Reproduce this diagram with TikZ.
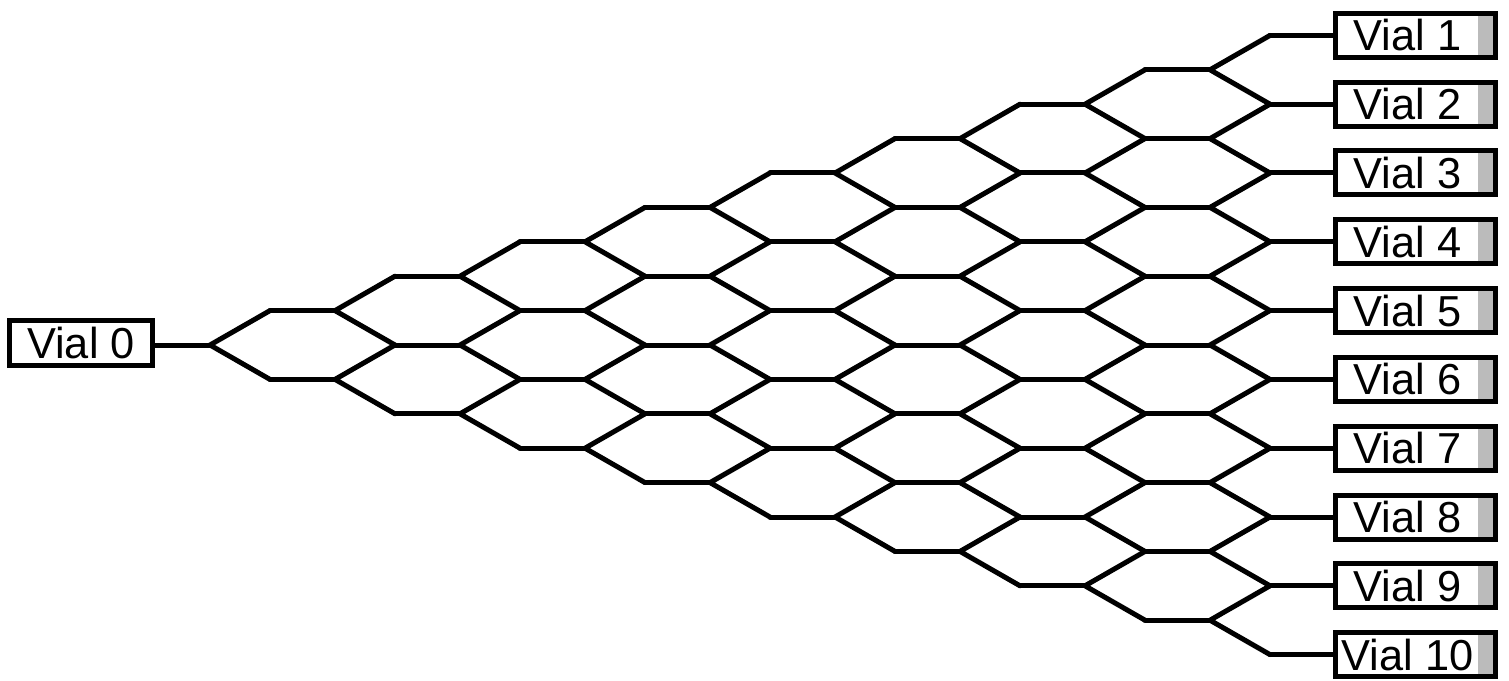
\documentclass[tikz,border=0pt]{standalone}
\usepackage{fontspec}
\setmainfont{Liberation Sans}
\usepackage{tikz}
\definecolor{vialgray}{RGB}{187,187,187}

\begin{document}
\begin{tikzpicture}[
    x=0.03cm, y=-0.03cm,
    channel/.style={line width=0.15cm, line join=miter, line cap=round},
    vial/.style={draw, line width=0.15cm, inner sep=0pt, minimum height=1.32cm,
                 font=\fontsize{37}{40}\selectfont},
    outvial/.style={vial, path picture={
        \fill[vialgray] ([xshift=-0.5cm]path picture bounding box.north east)
              rectangle (path picture bounding box.south east);}}
]
\useasboundingbox (0,0) rectangle (1509,681);

% Split points and channel starts
\foreach \k in {1,...,9} {
  \foreach \j in {1,...,\k} {
    \coordinate (s\k-\j) at ({210+125*(\k-1)}, {345+34.4*(2*\j-\k-1)});
  }
  \foreach \m in {1,...,\numexpr\k+1\relax} {
    \coordinate (c\k-\m) at ({270+125*(\k-1)}, {345+34.4*(2*\m-\k-2)});
  }
}

% Vials
\node[vial, minimum width=4.26cm] (v0) at (81, 343) {Vial 0};
\foreach \m in {1,...,10} {
  \node[outvial] (v\m) at (1415, {345+34.4*(2*\m-11)})
    {\makebox[4.8cm][l]{\makebox[4.35cm]{Vial \m}}};
}

% Inlet
\draw[channel] (v0.east |- s1-1) -- (s1-1);

% Lattice
\foreach \k in {1,...,9} {
  \foreach \j [evaluate=\j as \jj using int(\j+1)] in {1,...,\k} {
    \draw[channel] (c\k-\j) -- (s\k-\j) -- (c\k-\jj);
  }
}
\foreach \k [evaluate=\k as \kk using int(\k+1)] in {1,...,8} {
  \foreach \m in {1,...,\kk} {
    \draw[channel] (c\k-\m) -- (s\kk-\m);
  }
}

% Outlets
\foreach \m in {1,...,10} {
  \draw[channel] (c9-\m) -- (v\m);
}

\end{tikzpicture}
\end{document}
